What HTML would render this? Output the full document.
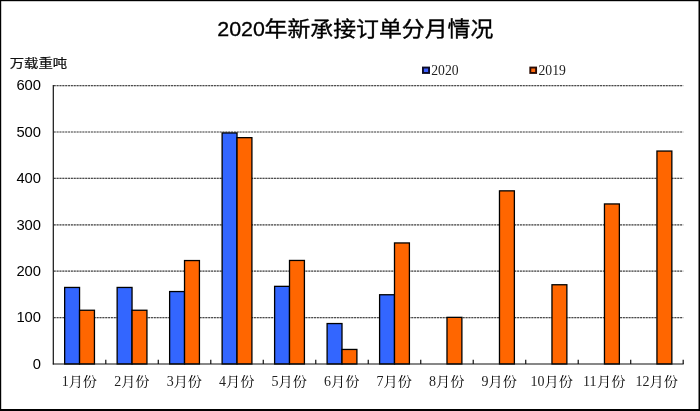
<!DOCTYPE html>
<html lang="zh-CN"><head><meta charset="utf-8"><title>2020年新承接订单分月情况</title>
<style>
html,body{margin:0;padding:0;background:#fff;}
body{width:700px;height:411px;overflow:hidden;position:relative;}
svg{position:absolute;left:0;top:0;display:block;}
text{white-space:pre;}
.tc{font-family:"Liberation Sans","Noto Sans CJK SC",sans-serif;font-size:21px;fill:#000;stroke:#000;stroke-width:0.35px;}
.td{font-family:"Liberation Sans",sans-serif;font-size:20.8px;fill:#000;stroke:#000;stroke-width:0.3px;}
.unit{font-family:"Liberation Sans","Noto Sans CJK SC",sans-serif;font-size:12.5px;fill:#111;stroke:#111;stroke-width:0.22px;}
.yl{font-family:"Liberation Sans",sans-serif;font-size:14.2px;fill:#000;text-anchor:end;}
.xc{font-family:"Liberation Serif","Noto Serif CJK SC",serif;font-size:12.6px;fill:#000;}
.xd{font-family:"Liberation Serif",serif;font-size:14.2px;fill:#222;}
</style></head><body>
<svg width="700" height="411" viewBox="0 0 700 411">
<rect x="0" y="0" width="700" height="411" fill="#fff"/>
<g stroke="#cfcfcf" stroke-width="1.2" fill="none">
<line x1="53.80" y1="317.60" x2="683.20" y2="317.60"/>
<line x1="53.80" y1="271.20" x2="683.20" y2="271.20"/>
<line x1="53.80" y1="224.80" x2="683.20" y2="224.80"/>
<line x1="53.80" y1="178.40" x2="683.20" y2="178.40"/>
<line x1="53.80" y1="132.00" x2="683.20" y2="132.00"/>
<line x1="53.80" y1="85.60" x2="683.20" y2="85.60"/>
</g>
<g stroke="#4a4a4a" stroke-width="1.2" stroke-dasharray="1.9 0.96" fill="none">
<line x1="53.80" y1="317.60" x2="683.20" y2="317.60"/>
<line x1="53.80" y1="271.20" x2="683.20" y2="271.20"/>
<line x1="53.80" y1="224.80" x2="683.20" y2="224.80"/>
<line x1="53.80" y1="178.40" x2="683.20" y2="178.40"/>
<line x1="53.80" y1="132.00" x2="683.20" y2="132.00"/>
<line x1="53.80" y1="85.60" x2="683.20" y2="85.60"/>
</g>
<g stroke="#000" stroke-width="1.3">
<rect x="64.65" y="287.45" width="14.90" height="76.55" fill="#3366ff"/>
<rect x="79.55" y="310.25" width="14.90" height="53.75" fill="#ff6600"/>
<rect x="117.14" y="287.45" width="14.90" height="76.55" fill="#3366ff"/>
<rect x="132.04" y="310.25" width="14.90" height="53.75" fill="#ff6600"/>
<rect x="169.63" y="291.55" width="14.90" height="72.45" fill="#3366ff"/>
<rect x="184.53" y="260.55" width="14.90" height="103.45" fill="#ff6600"/>
<rect x="222.12" y="132.95" width="14.90" height="231.05" fill="#3366ff"/>
<rect x="237.02" y="137.65" width="14.90" height="226.35" fill="#ff6600"/>
<rect x="274.61" y="286.35" width="14.90" height="77.65" fill="#3366ff"/>
<rect x="289.51" y="260.45" width="14.90" height="103.55" fill="#ff6600"/>
<rect x="327.10" y="323.55" width="14.90" height="40.45" fill="#3366ff"/>
<rect x="342.00" y="349.45" width="14.90" height="14.55" fill="#ff6600"/>
<rect x="379.60" y="294.75" width="14.90" height="69.25" fill="#3366ff"/>
<rect x="394.50" y="242.95" width="14.90" height="121.05" fill="#ff6600"/>
<rect x="446.99" y="317.35" width="14.90" height="46.65" fill="#ff6600"/>
<rect x="499.48" y="190.85" width="14.90" height="173.15" fill="#ff6600"/>
<rect x="551.97" y="284.75" width="14.90" height="79.25" fill="#ff6600"/>
<rect x="604.46" y="203.95" width="14.90" height="160.05" fill="#ff6600"/>
<rect x="656.95" y="151.05" width="14.90" height="212.95" fill="#ff6600"/>
</g>
<g stroke="#111" stroke-width="1.2" fill="none">
<line x1="53.30" y1="85.10" x2="53.30" y2="364.50"/>
<line x1="52.80" y1="364.00" x2="683.70" y2="364.00"/>
<line x1="105.79" y1="359.70" x2="105.79" y2="364.00"/>
<line x1="158.28" y1="359.70" x2="158.28" y2="364.00"/>
<line x1="210.78" y1="359.70" x2="210.78" y2="364.00"/>
<line x1="263.27" y1="359.70" x2="263.27" y2="364.00"/>
<line x1="315.76" y1="359.70" x2="315.76" y2="364.00"/>
<line x1="368.25" y1="359.70" x2="368.25" y2="364.00"/>
<line x1="420.74" y1="359.70" x2="420.74" y2="364.00"/>
<line x1="473.23" y1="359.70" x2="473.23" y2="364.00"/>
<line x1="525.73" y1="359.70" x2="525.73" y2="364.00"/>
<line x1="578.22" y1="359.70" x2="578.22" y2="364.00"/>
<line x1="630.71" y1="359.70" x2="630.71" y2="364.00"/>
<line x1="683.20" y1="359.70" x2="683.20" y2="364.00"/>
</g>
<text class="yl" transform="translate(41.00 368.75) scale(1.040 1)">0</text>
<text class="yl" transform="translate(41.00 322.35) scale(1.040 1)">100</text>
<text class="yl" transform="translate(41.00 275.95) scale(1.040 1)">200</text>
<text class="yl" transform="translate(41.00 229.55) scale(1.040 1)">300</text>
<text class="yl" transform="translate(41.00 183.15) scale(1.040 1)">400</text>
<text class="yl" transform="translate(41.00 136.75) scale(1.040 1)">500</text>
<text class="yl" transform="translate(41.00 90.35) scale(1.040 1)">600</text>
<text class="xd" transform="translate(61.65 386.40) scale(0.986 1)">1</text>
<text class="xc" transform="translate(68.65 386.40) scale(1.127 1)">月份</text>
<text class="xd" transform="translate(114.14 386.40) scale(0.986 1)">2</text>
<text class="xc" transform="translate(121.14 386.40) scale(1.127 1)">月份</text>
<text class="xd" transform="translate(166.63 386.40) scale(0.986 1)">3</text>
<text class="xc" transform="translate(173.63 386.40) scale(1.127 1)">月份</text>
<text class="xd" transform="translate(219.12 386.40) scale(0.986 1)">4</text>
<text class="xc" transform="translate(226.12 386.40) scale(1.127 1)">月份</text>
<text class="xd" transform="translate(271.61 386.40) scale(0.986 1)">5</text>
<text class="xc" transform="translate(278.61 386.40) scale(1.127 1)">月份</text>
<text class="xd" transform="translate(324.10 386.40) scale(0.986 1)">6</text>
<text class="xc" transform="translate(331.10 386.40) scale(1.127 1)">月份</text>
<text class="xd" transform="translate(376.60 386.40) scale(0.986 1)">7</text>
<text class="xc" transform="translate(383.60 386.40) scale(1.127 1)">月份</text>
<text class="xd" transform="translate(429.09 386.40) scale(0.986 1)">8</text>
<text class="xc" transform="translate(436.09 386.40) scale(1.127 1)">月份</text>
<text class="xd" transform="translate(481.58 386.40) scale(0.986 1)">9</text>
<text class="xc" transform="translate(488.58 386.40) scale(1.127 1)">月份</text>
<text class="xd" transform="translate(530.57 386.40) scale(0.986 1)">10</text>
<text class="xc" transform="translate(544.57 386.40) scale(1.127 1)">月份</text>
<text class="xd" transform="translate(583.06 386.40) scale(0.986 1)">11</text>
<text class="xc" transform="translate(597.06 386.40) scale(1.127 1)">月份</text>
<text class="xd" transform="translate(635.55 386.40) scale(0.986 1)">12</text>
<text class="xc" transform="translate(649.55 386.40) scale(1.127 1)">月份</text>
<text class="unit" transform="translate(9.70 68.30) scale(1.150 1)">万载重吨</text>
<text class="td" transform="translate(217.30 36.00) scale(1.030 1)">2020</text>
<text class="tc" transform="translate(264.60 36.30) scale(1.090 1)">年新承接订单分月情况</text>
<rect x="422.95" y="67.55" width="6.1" height="5.4" fill="#3f5fff" stroke="#0c0c28" stroke-width="1.9"/>
<text class="xd" transform="translate(431.20 74.70) scale(0.965 1)">2020</text>
<rect x="530.3" y="67.55" width="5.8" height="5.4" fill="#ff6a10" stroke="#2a0c04" stroke-width="1.9"/>
<text class="xd" transform="translate(538.50 74.70) scale(0.965 1)">2019</text>
<rect x="0" y="0" width="700" height="1.2" fill="#000"/>
<rect x="0" y="0" width="1.2" height="411" fill="#000"/>
<rect x="698.5" y="0" width="1.5" height="411" fill="#000"/>
<rect x="0" y="409" width="700" height="2" fill="#000"/>
</svg>
</body></html>
